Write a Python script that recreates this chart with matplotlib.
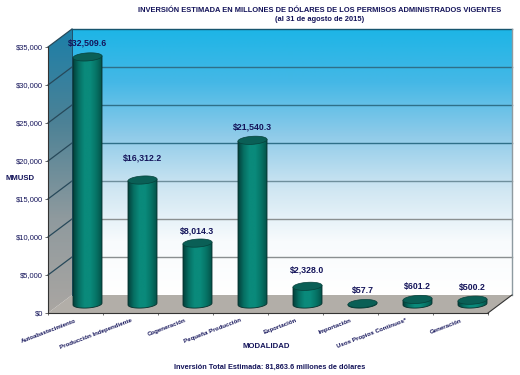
#!/usr/bin/env python3
import numpy as np
import matplotlib
matplotlib.use("Agg")
import matplotlib.pyplot as plt
from matplotlib.colors import LinearSegmentedColormap
from matplotlib.patches import Polygon

plt.rcParams['font.family'] = ['Liberation Sans', 'DejaVu Sans']

categories = ["Autoabastecimiento", "Producción Independiente", "Cogeneración",
              "Pequeña Producción", "Exportación", "Importación",
              "Usos Propios Continuos*", "Generación"]
values = [32509.6, 16312.2, 8014.3, 21540.3, 2328.0, 57.7, 601.2, 500.2]
value_labels = ["$32,509.6", "$16,312.2", "$8,014.3", "$21,540.3",
                "$2,328.0", "$57.7", "$601.2", "$500.2"]
yticks = [0, 5000, 10000, 15000, 20000, 25000, 30000, 35000]
ytick_labels = ["$0", "$5,000", "$10,000", "$15,000", "$20,000",
                "$25,000", "$30,000", "$35,000"]
label_lift = [14, 22, 12, 13, 16, 13, 13, 13]

W, H = 520, 375
NAVY = "#14145a"

fig = plt.figure(figsize=(W / 100, H / 100), dpi=100)
# the axes is the front plane of the 3d box, everything else is offset from it
ax = fig.add_axes([48 / W, 1 - 313 / H, 440 / W, 266 / H])
ax.set_xlim(0, 8)
ax.set_ylim(0, 35000)
ax.patch.set_visible(False)

# depth of the box in data units
dx = 24 / 55
dy = 18 / 266 * 35000
ymax = 35000
nx = 8


def fill(points, colors, horizontal=False, zorder=1):
    # gradient image clipped to a polygon
    pts = np.array(points)
    cmap = LinearSegmentedColormap.from_list("g", colors)
    grad = np.linspace(0, 1, 256)
    grad = grad.reshape(1, -1) if horizontal else grad.reshape(-1, 1)
    im = ax.imshow(grad, cmap=cmap, aspect="auto", origin="upper", zorder=zorder,
                   extent=[pts[:, 0].min(), pts[:, 0].max(), pts[:, 1].min(), pts[:, 1].max()])
    patch = Polygon(pts, closed=True, transform=ax.transData, fill=False, edgecolor="none")
    im.set_clip_box(fig.bbox)
    im.set_clip_path(patch)
    return im


# back wall
fill([(dx, dy), (nx + dx, dy), (nx + dx, ymax + dy), (dx, ymax + dy)],
     ["#1db5e6", "#45b8e6", "#8fcbe9", "#cfe6f2", "#f8fbfd", "#ffffff"], zorder=1)
# left wall
fill([(0, 0), (dx, dy), (dx, ymax + dy), (0, ymax)],
     ["#1c7fa8", "#4d8296", "#8f9a9e", "#aaa6a2"], zorder=1)
# floor
ax.add_patch(Polygon([(0, 0), (nx, 0), (nx + dx, dy), (dx, dy)], closed=True, clip_on=False,
                     facecolor="#b2aea8", edgecolor="none", zorder=2))

# grid on the walls
for t in yticks:
    if t > 0:
        ax.plot([0, dx], [t, t + dy], color="#27495a", lw=0.9, clip_on=False, zorder=3)
        if t == ymax:
            col = "#17556e"
        elif t > 15000:
            col = "#2f6f88"
        elif t == 15000:
            col = "#6f8f9c"
        else:
            col = "#8a8f90"
        ax.plot([dx, nx + dx], [t + dy, t + dy], color=col, lw=1.0, clip_on=False, zorder=3)
ax.plot([dx, dx], [dy, ymax + dy], color="#20506a", lw=0.7, clip_on=False, zorder=3)
ax.plot([nx + dx, nx + dx], [dy, ymax + dy], color="#8e9aa0", lw=1.0, clip_on=False, zorder=3)
ax.plot([nx, nx + dx], [0, dy], color="#333333", lw=0.8, clip_on=False, zorder=3)

# cylinders, the ellipses lean a little to the right like in the original
half = 14.5 / 55
ell_h = 8 / 266 * 35000
lean = 0.9 / 266 * 35000
for i, v in enumerate(values):
    cx = i + 0.5 + dx / 2
    base = dy / 2
    top = base + v
    z = 5 + i
    t = np.linspace(np.pi, 2 * np.pi, 40)
    front = [(cx + half * np.cos(a), base + ell_h / 2 * np.sin(a) + lean * np.cos(a)) for a in t]
    body = [(cx - half, top - lean)] + front + [(cx + half, top + lean)]
    fill(body, ["#033f3a", "#066f63", "#0a8a7b", "#0a8a7b", "#067466", "#04524a"],
         horizontal=True, zorder=z)
    ax.plot([p[0] for p in body], [p[1] for p in body], color="#06302c", lw=0.6,
            clip_on=False, zorder=z + 0.1)
    a = np.linspace(0, 2 * np.pi, 80)
    lid = np.column_stack([cx + half * np.cos(a), top + ell_h / 2 * np.sin(a) + lean * np.cos(a)])
    ax.add_patch(Polygon(lid, closed=True, facecolor="#0a5f56", edgecolor="#06403a",
                         lw=0.5, clip_on=False, zorder=z + 0.2))
    ax.annotate(value_labels[i], (cx, top), xytext=(0, label_lift[i]), textcoords="offset pixels",
                ha="center", va="center", fontsize=6.3, fontweight="bold", color=NAVY, zorder=20,
                annotation_clip=False)

# axes, ticks
for s in ["top", "right"]:
    ax.spines[s].set_visible(False)
for s in ["left", "bottom"]:
    ax.spines[s].set_color("#333333")
    ax.spines[s].set_linewidth(0.8)
    ax.spines[s].set_zorder(4)
ax.set_yticks(yticks)
ax.set_yticklabels(ytick_labels, fontsize=5.4, color=NAVY)
ax.tick_params(axis="y", length=2, width=0.5, pad=1.5, color="#333333")
ax.set_xticks(range(nx + 1))
ax.set_xticklabels([])
ax.tick_params(axis="x", which="major", length=1.5, width=0.5, color="#333333")
ax.set_xticks(np.arange(nx) + 0.5, minor=True)
ax.set_xticklabels(categories, minor=True, rotation=21, ha="right", va="top",
                   rotation_mode="anchor", fontsize=4.4, fontweight="bold", color=NAVY)
ax.tick_params(axis="x", which="minor", length=0, pad=3.5)
ax.set_xlim(0, 8)
ax.set_ylim(0, 35000)

fig.text(320 / W, 1 - 10 / H, "INVERSIÓN ESTIMADA EN MILLONES DE DÓLARES DE LOS PERMISOS ADMINISTRADOS VIGENTES",
         ha="center", va="center", fontsize=5.4, fontweight="bold", color=NAVY)
fig.text(320 / W, 1 - 19.5 / H, "(al 31 de agosto de 2015)", ha="center", va="center",
         fontsize=5.4, fontweight="bold", color=NAVY)
fig.text(20 / W, 1 - 178 / H, "MMUSD", ha="center", va="center", fontsize=5.6,
         fontweight="bold", color=NAVY)
fig.text(266 / W, 1 - 346.5 / H, "MODALIDAD", ha="center", va="center", fontsize=5.6,
         fontweight="bold", color=NAVY)
fig.text(270 / W, 1 - 367 / H, "Inversión Total Estimada: 81,863.6 millones de dólares",
         ha="center", va="center", fontsize=5.3, fontweight="bold", color=NAVY)

fig.savefig("out.png", dpi=100)
